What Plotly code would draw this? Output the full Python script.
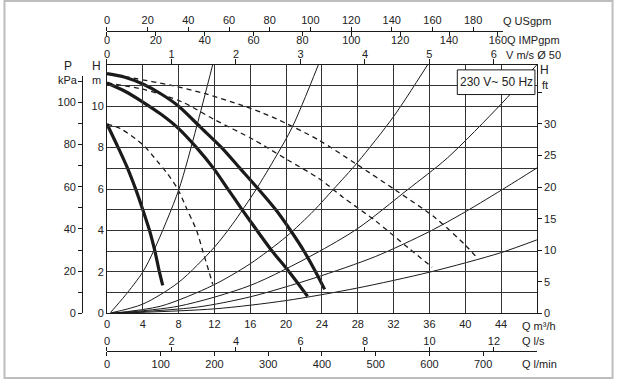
import plotly.graph_objects as go

# ---------------- data ----------------
# pump curves (thick), Q in m3/h, H in m
q_pump_1 = [0, 1.25, 2.3, 3.2, 4.0, 4.75, 5.35, 5.85, 6.22]
h_pump_1 = [9.14, 8.0, 7.0, 6.0, 5.0, 4.0, 3.0, 2.0, 1.35]
q_pump_2 = [0, 2, 4, 6, 8, 10.0, 11.9, 13.5, 15.1, 16.75, 18.45, 20.35, 22.4]
h_pump_2 = [11.12, 10.72, 10.2, 9.62, 8.92, 8.0, 7.0, 6.0, 5.0, 4.0, 3.0, 2.0, 0.82]
q_pump_3 = [0, 2, 4, 6, 8, 10.4, 12.8, 14.85, 16.9, 18.85, 20.5, 22.0, 23.3, 24.3]
h_pump_3 = [11.57, 11.4, 11.07, 10.6, 10.0, 9.0, 8.0, 7.0, 6.0, 5.0, 4.0, 3.0, 2.0, 1.16]

# dashed curves
q_dash_1 = [0, 1.5, 4.1, 5.6, 6.7, 7.9, 8.85, 10.0, 10.7, 11.4, 11.8]
h_dash_1 = [9.14, 8.92, 8.1, 7.35, 6.77, 6.0, 5.1, 4.0, 3.0, 2.0, 1.4]
q_dash_2 = [0, 4, 8.4, 12, 16.3, 20, 23.7, 26.3, 30, 33.7, 36.3]
h_dash_2 = [11.12, 10.82, 10.2, 9.35, 8.4, 7.45, 6.5, 5.62, 4.46, 3.14, 2.23]
q_dash_3 = [0, 3, 7.2, 11, 15, 17.4, 20, 23.7, 27.9, 32.2, 36.6, 40, 41.4]
h_dash_3 = [11.57, 11.35, 11.0, 10.6, 10.05, 9.67, 9.17, 8.35, 7.19, 5.95, 4.63, 3.3, 2.64]

# system curves (thin)
q_sys_1 = [0.4, 2, 4, 5.3, 8, 10, 11.8]
h_sys_1 = [0.05, 0.85, 2.0, 3.1, 5.95, 9.0, 12.0]
q_sys_2 = [0.4, 4, 8, 12, 14, 16.6, 18.9, 20.7, 23.6]
h_sys_2 = [0.02, 0.45, 1.5, 3.2, 4.3, 5.95, 7.6, 9.0, 12.0]
q_sys_3 = [0.4, 6, 11.8, 16, 20, 23.1, 25.3, 28, 32, 35.8]
h_sys_3 = [0.0, 0.35, 1.35, 2.4, 3.7, 4.96, 6.0, 7.3, 9.5, 12.0]
q_sys_4 = [0.4, 8, 16, 23.1, 28, 33.5, 38, 44, 48]
h_sys_4 = [0.0, 0.35, 1.35, 2.85, 4.1, 5.95, 7.5, 10.1, 12.0]
q_sys_5 = [0.4, 10, 16, 23.1, 30, 36, 40, 44.6, 48]
h_sys_5 = [0.0, 0.3, 0.8, 1.7, 2.75, 3.95, 4.9, 6.1, 7.02]
q_sys_6 = [0.4, 12, 20, 27.9, 36.1, 43.9, 48]
h_sys_6 = [0.0, 0.22, 0.62, 1.22, 2.0, 2.92, 3.55]

# axis tick values
q_m3h_ticks = list(range(0, 45, 4))
h_m_ticks = list(range(0, 12))
p_kpa_ticks = list(range(0, 111, 10))
h_ft_ticks = list(range(0, 36, 5))
usgpm_ticks = list(range(0, 181, 20))
impgpm_ticks = list(range(0, 161, 20))
v_ms_ticks = list(range(0, 7))
ls_ticks = list(range(0, 13, 2))
lmin_ticks = list(range(0, 701, 100))

# unit conversions
M3H_PER_USGPM = 0.22712
M3H_PER_IMPGPM = 0.27277
M3H_PER_MS = 7.2        # as drawn (Ø 50)
M3H_PER_LS = 3.6
KPA_PER_M = 9.81
M_PER_FT = 0.3048

# ---------------- layout geometry ----------------
W, H = 620, 385
# the photographed picture is the page slightly shrunk toward its centre;
# positions below are measured in picture pixels and mapped back to page pixels
SX, OX = 0.9935, 2.5
SY, OY = 0.958, 8.0


def dom_x(px):
    return (px - OX) / SX


def dom_y(py):
    return (py - OY) / SY


def fx(px):
    return dom_x(px) / W


def fy(py):
    return min(max(1 - dom_y(py) / H, 1 / H), 1 - 1 / H)


PX0, PX1, PY0, PY1 = 107, 539, 71, 313       # plot frame (picture px)
QMAX, HMAX = 48, 12
q_per_px = QMAX / (dom_x(PX1) - dom_x(PX0))
h_per_px = HMAX / (dom_y(PY1) - dom_y(PY0))

FONT = "Liberation Sans, Arial, sans-serif"
INK = "#1a1a1a"
GRID = "#333333"
TXT = "#222"

fig = go.Figure()

for q, h in [(q_sys_1, h_sys_1), (q_sys_2, h_sys_2), (q_sys_3, h_sys_3),
             (q_sys_4, h_sys_4), (q_sys_5, h_sys_5), (q_sys_6, h_sys_6)]:
    fig.add_trace(go.Scatter(x=q, y=h, mode="lines", hoverinfo="skip",
                             line=dict(color=INK, width=1, shape="spline", smoothing=0.8)))

for q, h in [(q_dash_1, h_dash_1), (q_dash_2, h_dash_2), (q_dash_3, h_dash_3)]:
    fig.add_trace(go.Scatter(x=q, y=h, mode="lines", hoverinfo="skip",
                             line=dict(color=INK, width=1.3, dash="5px,4px",
                                       shape="spline", smoothing=0.8)))

for q, h in [(q_pump_1, h_pump_1), (q_pump_2, h_pump_2), (q_pump_3, h_pump_3)]:
    fig.add_trace(go.Scatter(x=q, y=h, mode="lines", hoverinfo="skip",
                             line=dict(color=INK, width=3.2, shape="spline", smoothing=0.8)))

# carrier traces (no visible marks) so that every secondary scale is drawn
for xa, ya, vals in [("x", "y2", p_kpa_ticks), ("x", "y3", h_ft_ticks),
                     ("x2", "y", usgpm_ticks), ("x3", "y", impgpm_ticks),
                     ("x4", "y", v_ms_ticks), ("x5", "y", ls_ticks), ("x6", "y", lmin_ticks)]:
    if xa == "x":
        fig.add_trace(go.Scatter(x=[None] * len(vals), y=vals, xaxis=xa, yaxis=ya,
                                 mode="lines", hoverinfo="skip", line=dict(width=0)))
    else:
        fig.add_trace(go.Scatter(x=vals, y=[None] * len(vals), xaxis=xa, yaxis=ya,
                                 mode="lines", hoverinfo="skip", line=dict(width=0)))

tickfont = dict(family=FONT, size=11, color=TXT)

usgpm_px_end = 505
q_end_top = (dom_x(usgpm_px_end) - dom_x(PX0)) * q_per_px
p_px_top = 82
h_top_p = (dom_y(PY1) - dom_y(p_px_top)) * h_per_px

common = dict(tickcolor=INK, showgrid=False, zeroline=False, tickfont=tickfont,
              fixedrange=True, visible=True)

fig.update_layout(
    width=W, height=H, autosize=False,
    margin=dict(l=0, r=0, t=0, b=0, pad=0),
    paper_bgcolor="white", plot_bgcolor="rgba(0,0,0,0)",
    showlegend=False,
    font=dict(family=FONT, size=11, color=TXT),
    xaxis=dict(domain=[fx(PX0), fx(PX1)], range=[0, QMAX], tickvals=q_m3h_ticks,
               showgrid=True, gridcolor=GRID, gridwidth=1, zeroline=False,
               showline=True, mirror=True, linecolor=INK, linewidth=1,
               ticks="", tickfont=tickfont, fixedrange=True),
    yaxis=dict(domain=[fy(PY1), fy(PY0)], range=[0, HMAX], tickvals=h_m_ticks,
               ticktext=[str(v) if v % 2 == 0 else "" for v in h_m_ticks],
               showgrid=True, gridcolor=GRID, gridwidth=1, zeroline=False,
               showline=True, mirror=True, linecolor=INK, linewidth=1,
               ticks="", tickfont=tickfont, fixedrange=True),
    yaxis2=dict(domain=[fy(PY1), fy(p_px_top)], range=[0, h_top_p * KPA_PER_M],
                anchor="free", position=fx(82), side="left",
                tickvals=p_kpa_ticks,
                ticktext=[str(v) if v % 20 == 0 else "" for v in p_kpa_ticks],
                ticks="outside", ticklen=4, showline=True,
                linecolor=INK, linewidth=1, **common),
    yaxis3=dict(overlaying="y", anchor="x", side="right",
                range=[0, HMAX / M_PER_FT], tickvals=h_ft_ticks,
                ticktext=[str(v) if v < 35 else "" for v in h_ft_ticks],
                ticks="outside", ticklen=4, showline=False, **common),
    xaxis2=dict(domain=[fx(PX0), fx(usgpm_px_end)], range=[0, q_end_top / M3H_PER_USGPM],
                anchor="free", position=fy(38), side="top", tickvals=usgpm_ticks,
                ticks="outside", ticklen=4, showline=True, ticklabelstandoff=-2,
                linecolor=INK, linewidth=1, **common),
    xaxis3=dict(overlaying="x2", range=[0, q_end_top / M3H_PER_IMPGPM],
                anchor="free", position=fy(38), side="bottom", tickvals=impgpm_ticks,
                ticks="outside", ticklen=4, showline=False, ticklabelstandoff=-5,
                **common),
    xaxis4=dict(overlaying="x", anchor="y", side="top", range=[0, QMAX / M3H_PER_MS],
                tickvals=v_ms_ticks, ticks="outside", ticklen=5, showline=False,
                ticklabelstandoff=-4, **common),
    xaxis5=dict(overlaying="x", anchor="free", position=fy(350), side="top",
                range=[0, QMAX / M3H_PER_LS], tickvals=ls_ticks,
                ticks="outside", ticklen=4, showline=True, ticklabelstandoff=-2,
                linecolor=INK, linewidth=1, **common),
    xaxis6=dict(overlaying="x", anchor="free", position=fy(350), side="bottom",
                range=[0, QMAX / M3H_PER_LS * 60], tickvals=lmin_ticks,
                ticks="outside", ticklen=4, showline=False, ticklabelstandoff=-2,
                **common),
)

shapes = [
    dict(type="rect", xref="paper", yref="paper", x0=fx(4), x1=fx(615), y0=fy(379), y1=fy(5),
         line=dict(color="#bdbdbd", width=2), fillcolor="rgba(0,0,0,0)", layer="below"),
    dict(type="rect", xref="paper", yref="paper", x0=fx(459), x1=fx(537), y0=fy(100), y1=fy(76),
         line=dict(color=INK, width=1), fillcolor="white", layer="above"),
]
fig.update_layout(shapes=shapes)


def label(text, px, py, xanchor="center", size=11):
    fig.add_annotation(text=text, x=fx(px), y=fy(py), xref="paper", yref="paper",
                       xanchor=xanchor, yanchor="middle", showarrow=False, borderpad=0,
                       font=dict(family=FONT, size=size, color=TXT))


label("P", 68, 72, size=12)
label("kPa", 68, 86)
label("H", 96, 72, size=12)
label("m", 96, 86)
label("H", 547, 76, size=12)
label("ft", 547, 91)
label("Q USgpm", 504, 28, "left")
label("Q IMPgpm", 508, 47, "left")
label("V m/s Ø 50", 507, 62, "left")
label("Q m³/h", 523, 325, "left")
label("Q l/s", 523, 340, "left")
label("Q l/min", 523, 362, "left")
label("230 V~ 50 Hz", 498, 88, "center", size=12)

page_fix = ("var s=document.documentElement.style;s.margin='0';s.padding='0';s.overflow='hidden';"
            "var b=document.body.style;b.margin='0';b.padding='0';b.overflow='hidden';"
            "window.scrollTo(0,0);")
fig.write_html("out.html", config={"displayModeBar": False}, post_script=page_fix)
